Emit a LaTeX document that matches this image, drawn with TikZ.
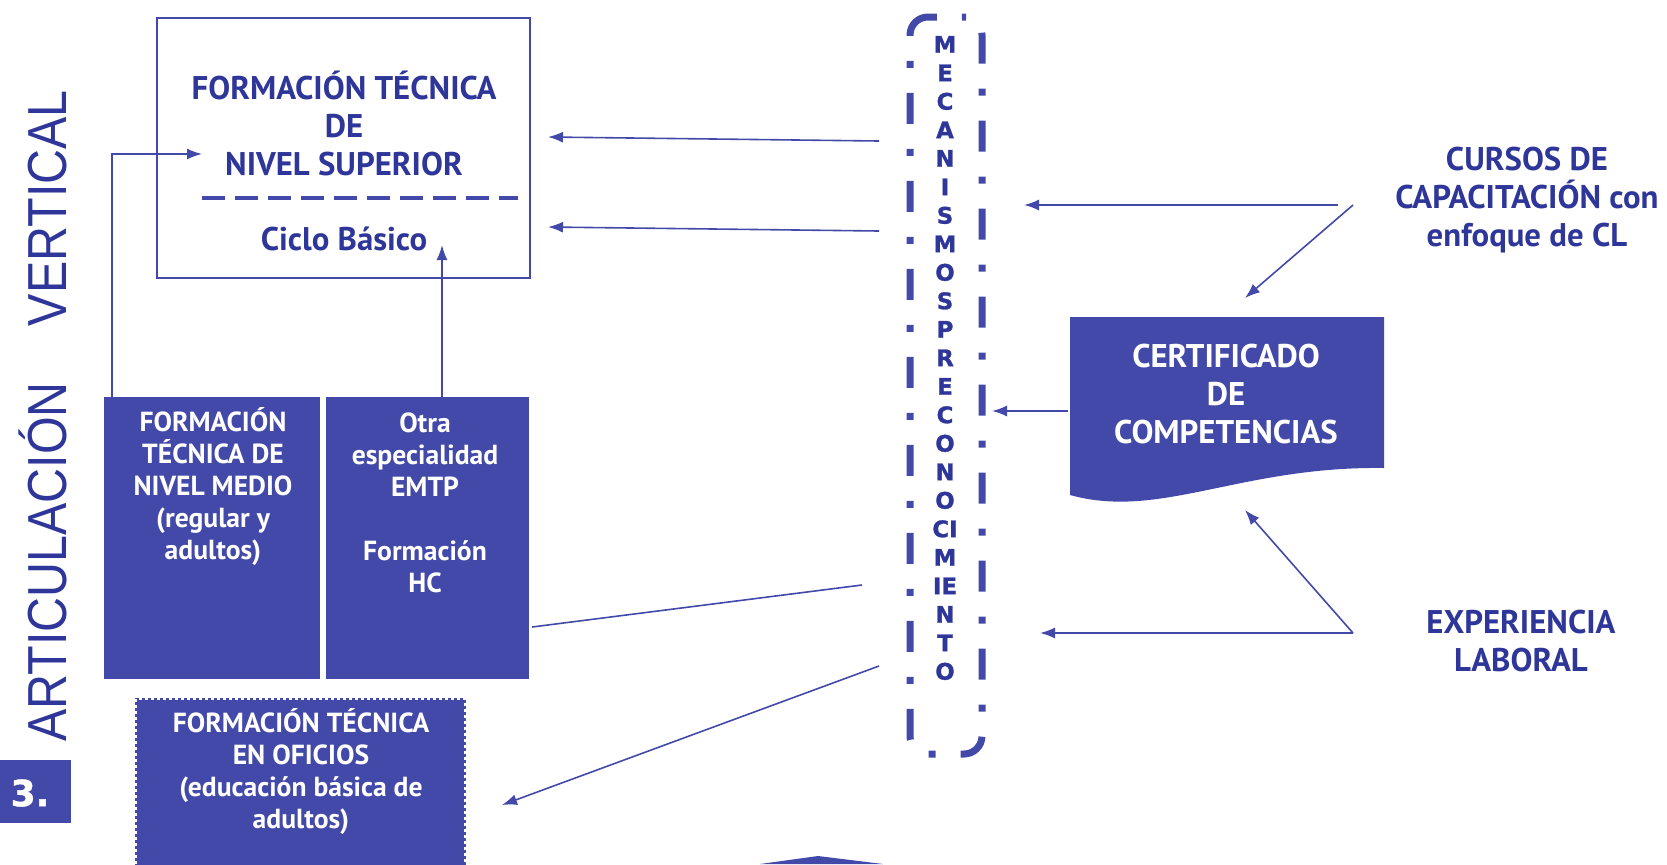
\documentclass[tikz,border=0pt]{standalone}
\usepackage{fontspec}
\setmainfont{PT Sans}
\newfontfamily\finafont[FakeStretch=0.88]{Liberation Sans}
\newfontfamily\anchafont[FakeBold=1.2]{DejaVu Sans Bold}
\usetikzlibrary{arrows.meta,shapes}
\definecolor{azul}{HTML}{4349A9}
\definecolor{azultxt}{HTML}{2F3699}
\newcommand{\tgr}{\bfseries\fontsize{16.4}{19}\selectfont}
\newcommand{\tch}{\bfseries\fontsize{13.8}{16}\selectfont}

\begin{document}
\begin{tikzpicture}[x=0.5pt, y=-0.5pt, >={Latex[length=7.5pt,width=5.5pt]}]
      \tikzstyle{every node}=[align=center, inner sep=0pt]
      \tikzstyle{caja}=[fill=azul, draw=none, text=white, font=\tch]
      \tikzstyle{flecha}=[->, draw=azul, line width=0.8pt]
      \tikzstyle{titulo}=[text=azultxt, font=\tgr]
      \useasboundingbox (0,0) rectangle (1667,864);
      \clip (0,0) rectangle (1667,864);
      %%
  \node (ft_sup) at (343.5,148) [draw=azul, line width=0.8pt, minimum width=186.5pt, minimum height=130pt] {};
  \node (ft_sup_t) at (344,123) [titulo] {FORMACIÓN TÉCNICA\\DE\\NIVEL SUPERIOR};
  \node (ciclo) at (344,239) [titulo] {Ciclo Básico};
  \draw [azul, line width=2.1pt, dash pattern=on 11.5pt off 5pt] (202,198) -- (518,198);
  \node (ft_medio) at (212,538) [caja, minimum width=108pt, minimum height=141pt] {};
  \node (ft_medio_t) at (213,487) [caja] {FORMACIÓN\\TÉCNICA DE\\NIVEL MEDIO\\(regular y\\adultos)};
  \node (emtp) at (427.5,538) [caja, minimum width=101.5pt, minimum height=141pt] {};
  \node (emtp_t) at (425,503) [caja] {Otra\\especialidad\\EMTP\\[16pt]Formación\\HC};
  \node (ft_ofi) at (300.5,787) [caja, draw=azul, line width=1.2pt, minimum width=164.5pt, minimum height=88pt,
        postaction={draw=white, line width=0.8pt, dash pattern=on 1.5pt off 1.5pt}] {};
  \node (ft_ofi_t) at (301,772) [caja] {FORMACIÓN TÉCNICA\\EN OFICIOS\\(educación básica de\\adultos)};
  \node (num) at (35.5,791.5) [fill=azul, minimum width=35.5pt, minimum height=31.5pt] {};
  \node (num_t) at (30,793) [text=white, font=\anchafont\fontsize{18}{18}\selectfont] {3.};
  \node (artic) at (66,416) [rotate=90, anchor=base, text=azultxt, font=\finafont\fontsize{27.5}{27.5}\selectfont] {ARTICULACIÓN\hspace{28pt}VERTICAL};
  %% mecanismos
  \draw [azul, line width=3.5pt, rounded corners=9pt, dash pattern=on 15.5pt off 12.5pt on 3.5pt off 12.5pt]
        (948,17) -- (910,17) -- (910,754) -- (982,754) -- (982,17) -- cycle;
  \node (mec) at (945,358) [text=azultxt, font=\anchafont\fontsize{11.4}{14.25}\selectfont]
        {M\\E\\C\\A\\N\\I\\S\\M\\O\\S\\P\\R\\E\\C\\O\\N\\O\\CI\\M\\IE\\N\\T\\O};
  %% certificado
  \fill [azul] (1070,317) -- (1384,317) -- (1384,468) .. controls (1240,466) and (1160,520) .. (1070,495) -- cycle;
  \node (cert) at (1226,394) [text=white, font=\tgr] {CERTIFICADO\\DE\\COMPETENCIAS};
  \node (cursos) at (1527,200) [titulo] {CURSOS DE\\CAPACITACIÓN con\\enfoque de CL};
  \node (exper) at (1521,641) [titulo] {EXPERIENCIA\\LABORAL};
  \fill [azul] (760,864) -- (818,856) -- (883,864) -- cycle;
  %% conectores
  \coordinate (m1) at (879,141);
  \coordinate (s1) at (548,137);
  \coordinate (m2) at (879,231);
  \coordinate (s2) at (548,227);
  \coordinate (c1) at (1338,205);
  \coordinate (m3) at (1024,205);
  \coordinate (c2) at (1353,205);
  \coordinate (k1) at (1245,298);
  \coordinate (k2) at (1068,411);
  \coordinate (m4) at (992,411);
  \coordinate (e1) at (1353,633);
  \coordinate (k3) at (1245,510);
  \coordinate (m5) at (1040,633);
  \coordinate (b1) at (532,627);
  \coordinate (m6) at (862,585);
  \coordinate (m7) at (879,666);
  \coordinate (o1) at (502,805);
  \coordinate (t1) at (112,397);
  \coordinate (s3) at (202,154);
  \coordinate (t2) at (442,397);
  \coordinate (s4) at (442,245);
  \draw [flecha] (m1) -- (s1);
  \draw [flecha] (m2) -- (s2);
  \draw [flecha] (c1) -- (m3);
  \draw [flecha] (c2) -- (k1);
  \draw [flecha] (k2) -- (m4);
  \draw [flecha] (e1) -- (k3);
  \draw [flecha] (e1) -- (m5);
  \draw [azul, line width=0.8pt] (b1) -- (m6);
  \draw [flecha] (m7) -- (o1);
  \draw [flecha] (t1) |- (s3);
  \draw [flecha] (t2) -- (s4);
%
\end{tikzpicture}
\end{document}
